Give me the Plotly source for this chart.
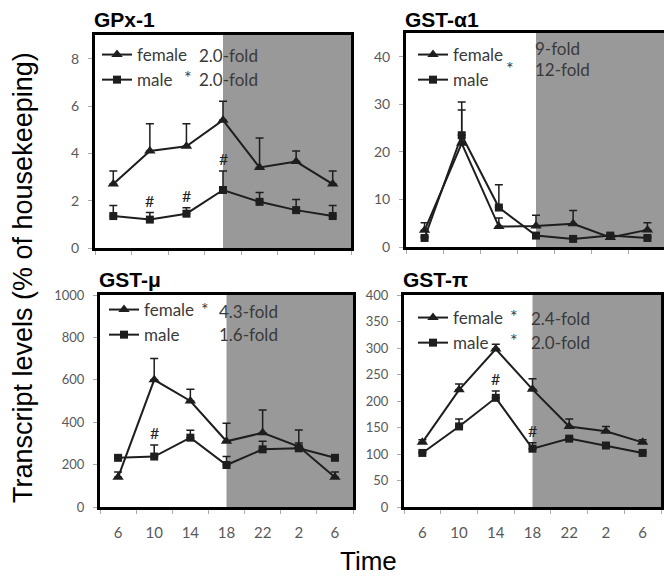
import plotly.graph_objects as go

times = ["6", "10", "14", "18", "22", "2", "6"]
dark_start = 3  # index of the "18" time point where the dark phase begins

gpx_f = [2.7, 4.1, 4.3, 5.4, 3.4, 3.65, 2.7]
gpx_f_err = [0.55, 1.15, 0.95, 0.8, 1.25, 0.45, 0.55]
gpx_m = [1.35, 1.2, 1.45, 2.45, 1.95, 1.6, 1.35]
gpx_m_err = [0.45, 0.3, 0.25, 0.8, 0.4, 0.45, 0.45]
gpx_hash = [1, 2, 3]

gsta_f = [3.5, 21.8, 4.3, 4.4, 4.9, 2.0, 3.6]
gsta_f_err = [1.6, 7.0, 1.8, 2.3, 2.8, 0.3, 1.5]
gsta_m = [1.9, 23.5, 8.3, 2.4, 1.7, 2.4, 1.9]
gsta_m_err = [0.3, 7.0, 4.8, 0.3, 0.3, 0.3, 0.3]
gsta_hash = []

gstm_f = [140, 600, 500, 310, 350, 285, 140]
gstm_f_err = [25, 100, 55, 85, 108, 78, 25]
gstm_m = [232, 238, 327, 198, 272, 277, 232]
gstm_m_err = [8, 55, 35, 40, 38, 25, 8]
gstm_hash = [1]

gstp_f = [122, 221, 298, 222, 152, 143, 122]
gstp_f_err = [5, 11, 9, 20, 14, 9, 5]
gstp_m = [102, 152, 206, 110, 129, 116, 102]
gstp_m_err = [2, 14, 13, 11, 2, 4, 2]
gstp_hash = [2, 3]

titles = ["GPx-1", "GST-α1", "GST-μ", "GST-π"]
female_fold = ["2.0-fold", "9-fold", "4.3-fold", "2.4-fold"]
male_fold = ["2.0-fold", "12-fold", "1.6-fold", "2.0-fold"]
female_star = [False, False, True, True]
male_star = [True, True, False, True]
y_ranges = [[0, 9], [0, 45], [0, 1000], [0, 400]]
y_dticks = [2, 10, 200, 50]

# the page body has an 8px margin, so the figure is drawn 8px in from the window corner
OFF = 8
W, H = 672 - OFF, 576 - OFF


def px(x):
    return (x - OFF) / W


def py(y):
    return 1 - (y - OFF) / H


# panel frames in window pixels: (x0, x1, ytop, ybottom)
frames = [(95, 351, 35, 248), (406, 666, 33, 247), (100, 353, 295, 507), (404, 661, 295, 507)]
title_y = [19, 20, 279, 279]

panels = [
    (gpx_f, gpx_f_err, gpx_m, gpx_m_err, gpx_hash),
    (gsta_f, gsta_f_err, gsta_m, gsta_m_err, gsta_hash),
    (gstm_f, gstm_f_err, gstm_m, gstm_m_err, gstm_hash),
    (gstp_f, gstp_f_err, gstp_m, gstp_m_err, gstp_hash),
]

LINE = "#1e1e1e"
TICKC = "#595959"
TXT = "#3a3a3a"
CAL = "Lato, Carlito, Calibri, sans-serif"
ARIAL = "Arial, Liberation Sans, sans-serif"

fig = go.Figure()
xs = list(range(len(times)))
annotations = []
shapes = []
layout = {}

# legend placements (window pixels): (x_left, y_top)
legend_pos = [(97, 37), (413, 37), (104, 292), (413, 300)]
# fold text positions: x of fold text, y row1, y row2, x of star1, x of star2
fold_pos = [
    (197, 55, 79, 188, 188),
    (533, 48, 70, 521, 510),
    (217, 311, 334, 205, 205),
    (529, 318, 342, 514, 514),
]

for i, (f, fe, m, me, hsh) in enumerate(panels):
    n = "" if i == 0 else str(i + 1)
    xa, ya = "x" + n, "y" + n
    leg = "legend" + n
    x0, x1, yt, yb = frames[i]
    bottom = i >= 2
    layout["xaxis" + n] = dict(
        domain=[px(x0), px(x1)], anchor=ya, range=[-0.5, len(times) - 0.5],
        tickvals=xs, ticktext=times if bottom else [""] * len(times), ticks="",
        showticklabels=bottom, automargin=False,
        minor=dict(tickvals=[k - 0.5 for k in range(len(times) + 1)], ticks="outside",
                   ticklen=4, tickcolor="#aaaaaa", tickwidth=1),
        showline=True, mirror=True, linewidth=3, linecolor="black",
        showgrid=False, zeroline=False,
        tickfont=dict(family=CAL, size=15, color=TICKC), ticklabelstandoff=10,
    )
    layout["yaxis" + n] = dict(
        domain=[py(yb), py(yt)], anchor=xa, range=y_ranges[i], dtick=y_dticks[i],
        tick0=0, ticks="outside", ticklen=4, tickcolor="#aaaaaa", automargin=False,
        showline=True, mirror=True, linewidth=3, linecolor="black",
        showgrid=False, zeroline=False,
        tickfont=dict(family=CAL, size=14 if i < 2 else 13, color=TICKC),
        ticklabelstandoff=6,
    )
    shapes.append(dict(type="rect", xref=xa, yref=ya, x0=dark_start, x1=len(times) - 0.5,
                       y0=y_ranges[i][0], y1=y_ranges[i][1], fillcolor="#999999",
                       line=dict(width=0), layer="below"))
    fig.add_trace(go.Scatter(
        x=xs, y=f, xaxis=xa, yaxis=ya, mode="lines+markers", name="female",
        line=dict(color=LINE, width=2), marker=dict(symbol="triangle-up", size=10, color=LINE),
        error_y=dict(type="data", symmetric=False, array=fe, arrayminus=[0] * len(fe),
                     color=LINE, thickness=1.5, width=4),
        legend=leg, showlegend=True,
    ))
    fig.add_trace(go.Scatter(
        x=xs, y=m, xaxis=xa, yaxis=ya, mode="lines+markers", name="male",
        line=dict(color=LINE, width=2), marker=dict(symbol="square", size=8, color=LINE),
        error_y=dict(type="data", symmetric=False, array=me, arrayminus=[0] * len(me),
                     color=LINE, thickness=1.5, width=4),
        legend=leg, showlegend=True,
    ))
    lx, ly = legend_pos[i]
    layout[leg] = dict(x=px(lx), y=py(ly), xanchor="left", yanchor="top",
                       bgcolor="rgba(0,0,0,0)", font=dict(family=CAL, size=17, color=TXT),
                       itemwidth=30, tracegroupgap=0, traceorder="normal")
    for k in hsh:
        annotations.append(dict(x=k, y=m[k] + me[k], xref=xa, yref=ya, text="#",
                                showarrow=False, yanchor="bottom", yshift=1,
                                font=dict(family=CAL, size=16, color="#222222")))
    # panel title
    annotations.append(dict(x=px(x0 - 2), y=py(title_y[i]), xref="paper", yref="paper",
                            text="<b>%s</b>" % titles[i], showarrow=False, xanchor="left",
                            yanchor="middle", borderpad=0,
                            font=dict(family=ARIAL, size=21, color="black")))
    fx, fy1, fy2, sx1, sx2 = fold_pos[i]
    annotations.append(dict(x=px(fx), y=py(fy1), xref="paper", yref="paper",
                            text=female_fold[i], showarrow=False, xanchor="left", yanchor="middle",
                            font=dict(family=CAL, size=17, color=TXT)))
    annotations.append(dict(x=px(fx), y=py(fy2), xref="paper", yref="paper",
                            text=male_fold[i], showarrow=False, xanchor="left", yanchor="middle",
                            font=dict(family=CAL, size=17, color=TXT)))
    if female_star[i]:
        annotations.append(dict(x=px(sx1), y=py(fy1 - 2), xref="paper", yref="paper",
                                text="*", showarrow=False, xanchor="center", yanchor="middle",
                                font=dict(family=CAL, size=18, color=TXT)))
    if male_star[i]:
        annotations.append(dict(x=px(sx2), y=py(fy2 - 2), xref="paper", yref="paper",
                                text="*", showarrow=False, xanchor="center", yanchor="middle",
                                font=dict(family=CAL, size=18, color=TXT)))

annotations.append(dict(x=px(23), y=py(278), xref="paper", yref="paper",
                        text="Transcript levels (% of housekeeping)", textangle=-90,
                        showarrow=False, xanchor="center", yanchor="middle", borderpad=0,
                        font=dict(family=ARIAL, size=27, color="black")))
annotations.append(dict(x=px(368), y=py(561), xref="paper", yref="paper",
                        text="Time", showarrow=False, xanchor="center", yanchor="middle",
                        font=dict(family=ARIAL, size=26, color="black")))

fig.update_layout(
    width=W, height=H, margin=dict(l=0, r=0, t=0, b=0, autoexpand=False),
    paper_bgcolor="white", plot_bgcolor="white",
    annotations=annotations, shapes=shapes, **layout,
)
fig.write_html("out.html")
